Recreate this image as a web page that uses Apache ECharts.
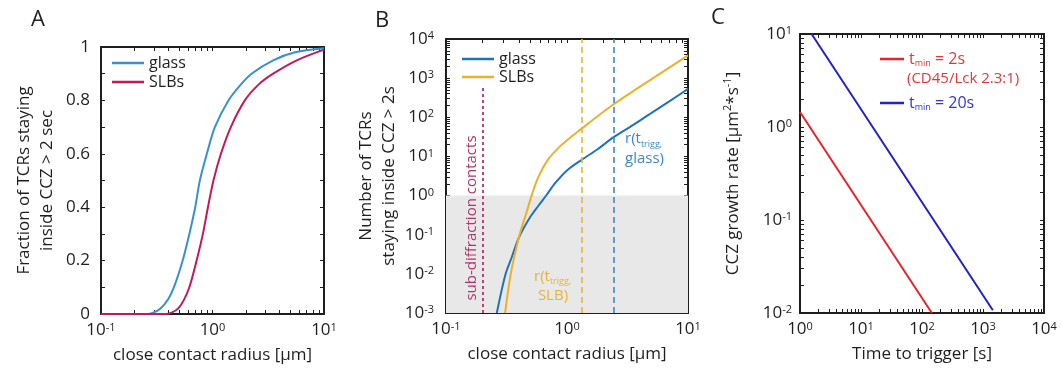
<!DOCTYPE html>
<html><head><meta charset="utf-8">
<script src="https://cdn.jsdelivr.net/npm/echarts@6/dist/echarts.min.js"></script>
<style>html,body{margin:0;padding:0;background:#fff}#c{width:1062px;height:373px}</style>
</head><body><div id="c"></div>
<script>
// ---------- Panel A: fraction of TCRs staying inside CCZ > 2 s ----------
const aGlassR = [0.1, 0.2, 0.26, 0.29, 0.34, 0.40, 0.46, 0.54, 0.62, 0.70, 0.77, 0.89, 1.05, 1.39, 1.8, 2.24, 3.5, 5.5, 10];
const aGlassF = [0, 0, 0, 0.004, 0.02, 0.055, 0.11, 0.2, 0.3, 0.4, 0.5, 0.6, 0.7, 0.8, 0.86, 0.9, 0.95, 0.98, 0.995];
const aSlbR   = [0.1, 0.3, 0.38, 0.43, 0.49, 0.55, 0.62, 0.72, 0.82, 0.91, 1.02, 1.19, 1.46, 1.95, 2.6, 3.5, 5.7, 10];
const aSlbF   = [0, 0, 0, 0.005, 0.02, 0.05, 0.1, 0.2, 0.3, 0.4, 0.5, 0.6, 0.7, 0.8, 0.86, 0.9, 0.95, 0.99];

// ---------- Panel B: number of TCRs staying inside CCZ > 2 s ----------
const bGlassR = [0.263, 0.308, 0.35, 0.404, 0.495, 0.58, 0.68, 0.8, 1.0, 1.33, 1.8, 2.43, 3.5, 5, 7, 10];
const bGlassN = [0.001, 0.009, 0.027, 0.09, 0.28, 0.55, 1.05, 2.1, 4.4, 8.3, 15.5, 31, 63, 130, 255, 530];
const bSlbR   = [0.308, 0.343, 0.404, 0.46, 0.51, 0.58, 0.7, 0.85, 1.0, 1.33, 1.8, 2.43, 3.5, 5, 7, 10];
const bSlbN   = [0.001, 0.01, 0.095, 0.35, 1.0, 3.0, 8.5, 16.5, 26, 52, 108, 215, 460, 940, 1850, 3800];
const bSubDiffR = 0.2, bSubDiffTop = 650;     // dotted line "sub-diffraction contacts"
const bTriggSlbR = 1.33, bTriggGlassR = 2.43; // dashed r(t_trigg) lines
const bShadeFrom = 0.001, bShadeTo = 1;       // grey band N < 1

// ---------- Panel C: CCZ growth rate vs time to trigger ----------
const cT2s   = [1, 10, 100, 145];
const cR2s   = [1.45, 0.145, 0.0145, 0.01];
const cT20s  = [1.55, 10, 100, 1000, 1450];
const cR20s  = [10, 1.55, 0.155, 0.0155, 0.0107];

// ---------- tick labels ----------
const aXLabels = [0.1, 1, 10];
const aYLabels = [0, 0.2, 0.4, 0.6, 0.8, 1];
const aYTicks  = [0, 0.1, 0.2, 0.3, 0.4, 0.5, 0.6, 0.7, 0.8, 0.9, 1];
const bXLabels = [0.1, 1, 10];
const bYLabels = [0.001, 0.01, 0.1, 1, 10, 100, 1000, 10000];
const cXLabels = [1, 10, 100, 1000, 10000];
const cYLabels = [0.01, 0.1, 1, 10];

const FONT = '"Open Sans", "DejaVu Sans", sans-serif';
const INK = '#1e1e1e';
const zip = (xs, ys) => xs.map((x, i) => [x, ys[i]]);
function logTicks(lo, hi) {
  const out = [];
  for (let e = lo; e < hi; e++) for (let m = 1; m < 10; m++) out.push(+(m * Math.pow(10, e)).toPrecision(6));
  out.push(Math.pow(10, hi));
  return out;
}
const logFmt = v => '10{sup|' + Math.round(Math.log10(v)) + '}';
const linFmt = v => String(+(+v).toFixed(1));
const supRich = { sup: { fontSize: 11, verticalAlign: 'top', fontFamily: FONT, color: INK } };
const nameStyle = { fontSize: 17, color: INK, fontFamily: FONT, lineHeight: 23, rich: { sup: { fontSize: 11, verticalAlign: 'top', fontFamily: FONT, color: INK, lineHeight: 23 } } };

function axis(grid, o) {
  return {
    gridIndex: grid, type: o.type, logBase: 10, min: o.min, max: o.max, position: o.pos,
    axisLine: { show: true, onZero: false, lineStyle: { color: INK, width: 2 } },
    axisTick: { show: true, inside: true, length: 4, customValues: o.ticks, lineStyle: { color: INK, width: 1 } },
    axisLabel: o.labels ? { show: true, customValues: o.labels, formatter: o.fmt, rich: supRich, margin: o.margin,
      fontSize: 17, color: INK, fontFamily: FONT } : { show: false },
    splitLine: { show: false }, minorTick: { show: false }, minorSplitLine: { show: false },
    name: o.name || '', nameLocation: 'middle', nameGap: o.nameGap || 0, nameRotate: o.nameRotate,
    nameTextStyle: nameStyle, silent: true
  };
}

const xAxes = [
  axis(0, { type: 'log', min: 0.1, max: 10, pos: 'bottom', ticks: logTicks(-1, 1), labels: aXLabels, fmt: logFmt, margin: 8,
            name: 'close contact radius [µm]', nameGap: 27 }),
  axis(0, { type: 'log', min: 0.1, max: 10, pos: 'top', ticks: logTicks(-1, 1) }),
  axis(1, { type: 'log', min: 0.1, max: 10, pos: 'bottom', ticks: logTicks(-1, 1), labels: bXLabels, fmt: logFmt, margin: 8,
            name: 'close contact radius [µm]', nameGap: 29 }),
  axis(1, { type: 'log', min: 0.1, max: 10, pos: 'top', ticks: logTicks(-1, 1) }),
  axis(2, { type: 'log', min: 1, max: 10000, pos: 'bottom', ticks: logTicks(0, 4), labels: cXLabels, fmt: logFmt, margin: 8,
            name: 'Time to trigger [s]', nameGap: 30 }),
  axis(2, { type: 'log', min: 1, max: 10000, pos: 'top', ticks: logTicks(0, 4) })
];
const yAxes = [
  axis(0, { type: 'value', min: 0, max: 1, pos: 'left', ticks: aYTicks, labels: aYLabels, fmt: linFmt, margin: 11,
            name: 'Fraction of TCRs staying\ninside CCZ > 2 sec', nameGap: 42, nameRotate: 90 }),
  axis(0, { type: 'value', min: 0, max: 1, pos: 'right', ticks: aYTicks }),
  axis(1, { type: 'log', min: 0.001, max: 10000, pos: 'left', ticks: logTicks(-3, 4), labels: bYLabels, fmt: logFmt, margin: 12,
            name: 'Number of TCRs\nstaying inside CCZ > 2s', nameGap: 43, nameRotate: 90 }),
  axis(1, { type: 'log', min: 0.001, max: 10000, pos: 'right', ticks: logTicks(-3, 4) }),
  axis(2, { type: 'log', min: 0.01, max: 10, pos: 'left', ticks: logTicks(-2, 1), labels: cYLabels, fmt: logFmt, margin: 8,
            name: 'CCZ growth rate [µm{sup|2}*s{sup|-1}]', nameGap: 55, nameRotate: 90 }),
  axis(2, { type: 'log', min: 0.01, max: 10, pos: 'right', ticks: logTicks(-2, 1) })
];

function line(name, xi, data, color, extra) {
  return Object.assign({ type: 'line', name, xAxisIndex: xi, yAxisIndex: xi, data, symbol: 'none', showSymbol: false,
    smooth: 0.3, clip: true, silent: true, sampling: 'none',
    lineStyle: { color, width: 2 }, itemStyle: { color } }, extra || {});
}

const C = { aGlass: '#3A8FCF', aSlb: '#C01A5C', bGlass: '#1F73BA', bSlb: '#EBB12C',
            bDashY: '#E6B437', bDashB: '#3B88CC', bDot: '#B3336C', cRed: '#E8242A', cBlue: '#2222C6',
            cRedTxt: '#E0383A', cBlueTxt: '#3434D0' };

const series = [
  line('glass', 0, zip(aGlassR, aGlassF), C.aGlass),
  line('SLBs', 0, zip(aSlbR, aSlbF), C.aSlb),
  line('glass ', 2, zip(bGlassR, bGlassN), C.bGlass, {
    markArea: { silent: true, itemStyle: { color: '#E8E8E8' },
      data: [[{ coord: [0.1, bShadeFrom] }, { coord: [10, bShadeTo] }]] },
    markLine: { silent: true, symbol: ['none', 'none'], label: { show: false }, animation: false,
      data: [
        { xAxis: bTriggSlbR, lineStyle: { color: C.bDashY, type: [6, 4], width: 1.6 } },
        { xAxis: bTriggGlassR, lineStyle: { color: C.bDashB, type: [6, 4], width: 1.6 } },
        [{ coord: [bSubDiffR, 0.001], lineStyle: { color: C.bDot, type: [3, 3], width: 1.8 } }, { coord: [bSubDiffR, bSubDiffTop] }]
      ] }
  }),
  line('SLBs ', 2, zip(bSlbR, bSlbN), C.bSlb),
  line('t_min = 2s', 4, zip(cT2s, cR2s), C.cRed, { smooth: false }),
  line('t_min = 20s', 4, zip(cT20s, cR20s), C.cBlue, { smooth: false })
];

const legendBase = { orient: 'vertical', icon: 'rect', itemWidth: 32, itemHeight: 2.5, padding: 0, selectedMode: false,
  textStyle: { fontSize: 16, lineHeight: 16, color: INK, fontFamily: FONT } };
const legends = [
  Object.assign({}, legendBase, { data: ['glass', 'SLBs'], left: 112, top: 55, itemGap: 3 }),
  Object.assign({}, legendBase, { data: ['glass ', 'SLBs '], left: 462, top: 51, itemGap: 2, formatter: n => n.trim() }),
  Object.assign({}, legendBase, { left: 880, top: 50, itemWidth: 24, itemGap: 26,
    data: [{ name: 't_min = 2s', textStyle: { color: C.cRedTxt } }, { name: 't_min = 20s', textStyle: { color: C.cBlueTxt } }],
    formatter: n => 't{sub|min}' + n.slice(5),
    textStyle: { fontSize: 16, lineHeight: 18, fontFamily: FONT, rich: { sub: { fontSize: 9, verticalAlign: 'bottom', fontFamily: FONT } } } })
];

const subRich = { sub: { fontSize: 9, verticalAlign: 'bottom', fontFamily: FONT } };
const graphic = [
  { type: 'text', z: 50, left: 31, top: 9, style: { text: 'A', fontSize: 22, fontFamily: FONT, fill: INK } },
  { type: 'text', z: 50, left: 375, top: 10, style: { text: 'B', fontSize: 22, fontFamily: FONT, fill: INK } },
  { type: 'text', z: 50, left: 711, top: 7, style: { text: 'C', fontSize: 22, fontFamily: FONT, fill: INK } },
  { type: 'text', z: 50, x: 472, y: 218, rotation: Math.PI / 2, style: { text: 'sub-diffraction contacts', fontSize: 15, fontFamily: FONT,
      fill: C.bDot, align: 'center', verticalAlign: 'middle' } },
  { type: 'text', z: 50, left: 625, top: 129, style: { text: 'r(t{sub|trigg,}\nglass)', fontSize: 15, lineHeight: 20, fontFamily: FONT,
      fill: C.bDashB, rich: subRich } },
  { type: 'text', z: 50, left: 534, top: 267, style: { text: 'r(t{sub|trigg,}\n SLB)', fontSize: 15, lineHeight: 19, fontFamily: FONT,
      fill: C.bDashY, rich: subRich } },
  { type: 'text', z: 50, left: 907, top: 71, style: { text: '(CD45/Lck 2.3:1)', fontSize: 15, fontFamily: FONT, fill: C.cRedTxt } }
];

const chart = echarts.init(document.getElementById('c'), null, { renderer: 'canvas' });
chart.setOption({
  animation: false,
  backgroundColor: '#ffffff',
  textStyle: { fontFamily: FONT },
  grid: [
    { left: 101, top: 47, width: 223, height: 267, containLabel: false, outerBoundsMode: 'none' },
    { left: 446, top: 39, width: 242, height: 274, containLabel: false, outerBoundsMode: 'none' },
    { left: 800, top: 34, width: 244, height: 279, containLabel: false, outerBoundsMode: 'none' }
  ],
  xAxis: xAxes,
  yAxis: yAxes,
  legend: legends,
  series,
  graphic
});
</script></body></html>
